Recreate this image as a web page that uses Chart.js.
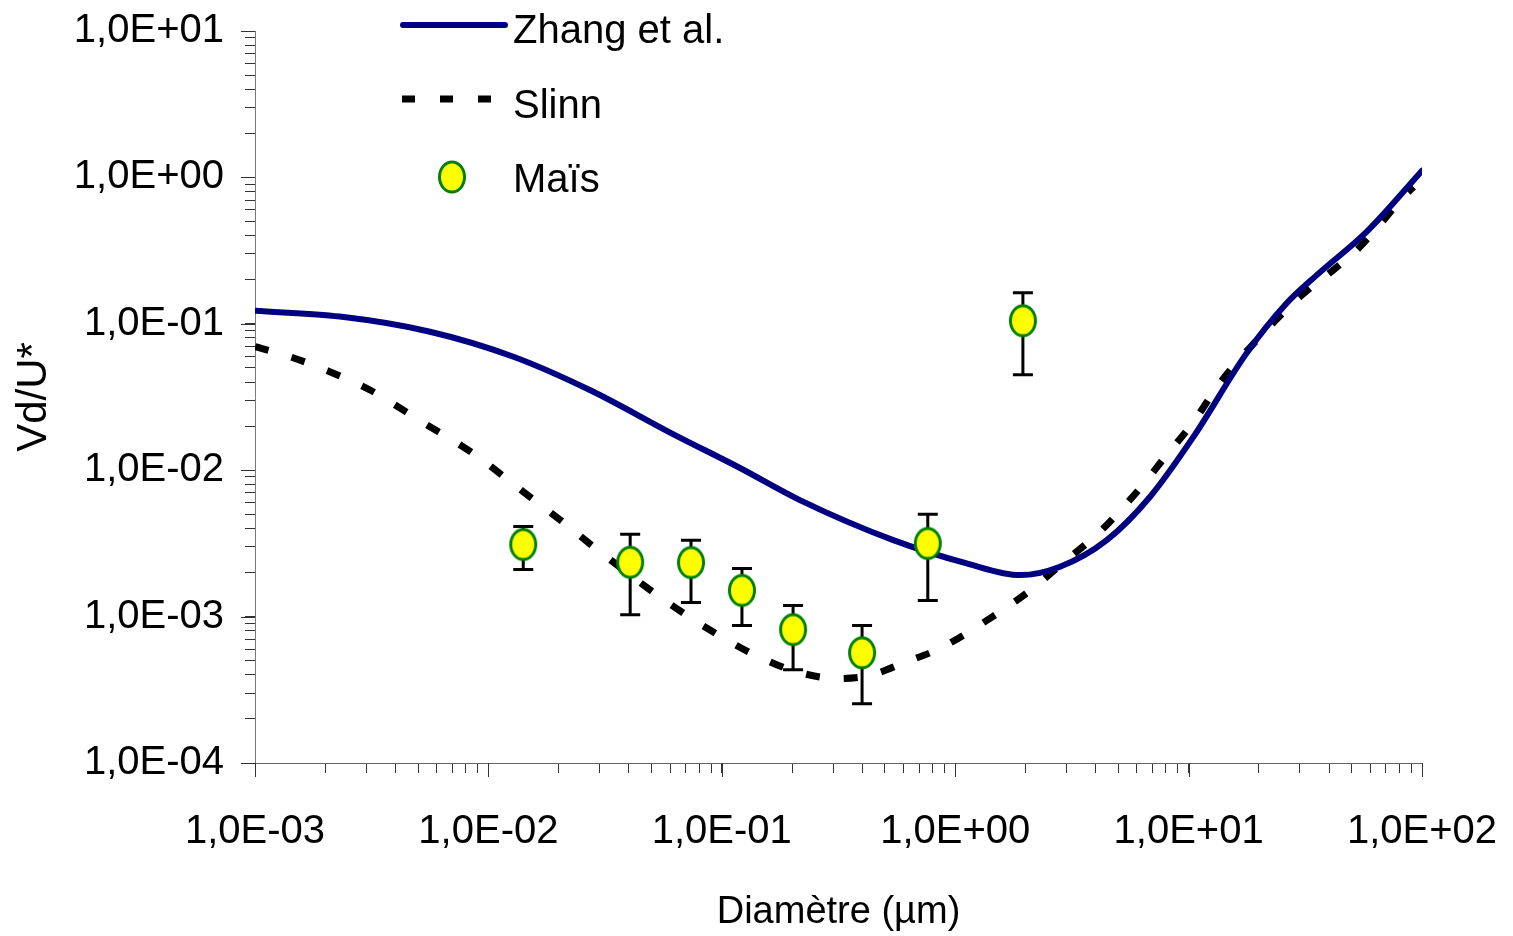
<!DOCTYPE html>
<html>
<head>
<meta charset="utf-8">
<script src="https://cdn.jsdelivr.net/npm/chart.js@4.4.1/dist/chart.umd.min.js"></script>
<style>
  html, body { margin: 0; padding: 0; background: #fff; }
  #wrap { width: 1513px; height: 936px; }
</style>
</head>
<body>
<div id="wrap"><canvas id="chart"></canvas></div>
<script>
// --- DATA ---
const xTickValues = [1e-3, 1e-2, 1e-1, 1, 10, 100];
const xTickLabels = ['1,0E-03', '1,0E-02', '1,0E-01', '1,0E+00', '1,0E+01', '1,0E+02'];
const yTickValues = [1e-4, 1e-3, 1e-2, 1e-1, 1, 10];
const yTickLabels = ['1,0E-04', '1,0E-03', '1,0E-02', '1,0E-01', '1,0E+00', '1,0E+01'];

const seriesNames = ['Zhang et al.', 'Slinn', 'Maïs'];

const zhangX = [0.001, 0.00231, 0.00562, 0.0128, 0.0272, 0.0618, 0.1197, 0.216, 0.543, 1.12, 1.9, 2.81, 4.46, 6.84, 10.5, 17.7, 26.3, 35.4, 58, 100];
const zhangY = [0.1227, 0.112, 0.0883, 0.0596, 0.0353, 0.01766, 0.01035, 0.00625, 0.00333, 0.00231, 0.00192, 0.00219, 0.00333, 0.00659, 0.01694, 0.0628, 0.138, 0.215, 0.426, 1.11];

const slinnX = [0.001, 0.00141, 0.00209, 0.00311, 0.00518, 0.00861, 0.0141, 0.0203, 0.0301, 0.0581, 0.105, 0.1436, 0.209, 0.315, 0.431, 0.619, 0.861, 1.41, 2.06, 3.0, 4.17, 6.19, 8.05, 10.5, 13.6, 19.6, 30.0, 41.7, 52.5, 63, 83.2, 92];
const slinnY = [0.0698, 0.0596, 0.0471, 0.0353, 0.0214, 0.013, 0.00713, 0.00457, 0.00277, 0.00126, 0.000692, 0.000532, 0.00042, 0.000378, 0.000397, 0.000492, 0.000607, 0.000973, 0.00148, 0.00244, 0.0038, 0.00752, 0.0127, 0.0214, 0.0393, 0.0774, 0.153, 0.233, 0.319, 0.437, 0.738, 0.86];

const maisX = [0.0141, 0.0405, 0.0738, 0.122, 0.202, 0.399, 0.763, 1.95];
const maisY = [0.00311, 0.00235, 0.00234, 0.00151, 0.000815, 0.000566, 0.00316, 0.105];
const maisErrHigh = [0.00413, 0.00365, 0.00332, 0.00213, 0.00119, 0.00087, 0.005, 0.163];
const maisErrLow = [0.0021, 0.00103, 0.00125, 0.00087, 0.000434, 0.000254, 0.00129, 0.0448];

// --- STYLE ---
const FONT = "'Liberation Sans', Arial, sans-serif";
const ZHANG_COLOR = '#000080';
const SLINN_COLOR = '#000000';
const SLINN_DASH = [14, 24];

// marqueur ellipse jaune / bord vert
function makeMarker() {
    const c = document.createElement('canvas');
    c.width = 30; c.height = 36;
    const g = c.getContext('2d');
    g.beginPath();
    g.ellipse(15, 18, 12.5, 15, 0, 0, Math.PI * 2);
    g.fillStyle = '#ffff00';
    g.fill();
    g.lineWidth = 3;
    g.strokeStyle = '#008000';
    g.stroke();
    return c;
}
const marker = makeMarker();

const toPoints = (xs, ys) => xs.map((x, i) => ({ x, y: ys[i] }));

function logTicks(majors) {
    const out = [];
    majors.forEach((v, i) => {
        out.push({ value: v, major: true });
        if (i < majors.length - 1) {
            for (let k = 2; k <= 9; k++) out.push({ value: v * k, major: false });
        }
    });
    return out;
}

function labelFor(values, labels) {
    return (value) => {
        const i = values.findIndex(v => Math.abs(Math.log10(v) - Math.log10(value)) < 1e-6);
        return i >= 0 ? labels[i] : '';
    };
}

// barres d'erreur, dessinées sous les marqueurs
const errorBars = {
    id: 'errorBars',
    beforeDatasetDraw(chart, args) {
        if (args.index !== 0) return;
        const { ctx, scales: { x, y } } = chart;
        ctx.save();
        ctx.strokeStyle = '#000';
        ctx.lineWidth = 3;
        maisX.forEach((v, i) => {
            const px = x.getPixelForValue(v);
            const top = y.getPixelForValue(maisErrHigh[i]);
            const bot = y.getPixelForValue(maisErrLow[i]);
            ctx.beginPath();
            ctx.moveTo(px, top); ctx.lineTo(px, bot);
            ctx.moveTo(px - 10, top); ctx.lineTo(px + 10, top);
            ctx.moveTo(px - 10, bot); ctx.lineTo(px + 10, bot);
            ctx.stroke();
        });
        ctx.restore();
    }
};

// ticks majeurs un peu plus longs
const majorTicks = {
    id: 'majorTicks',
    afterDraw(chart) {
        const { ctx, chartArea, scales: { x, y } } = chart;
        ctx.save();
        ctx.strokeStyle = '#333';
        ctx.lineWidth = 1;
        ctx.beginPath();
        xTickValues.forEach(v => {
            const px = Math.round(x.getPixelForValue(v)) + 0.5;
            ctx.moveTo(px, chartArea.bottom); ctx.lineTo(px, chartArea.bottom + 14);
        });
        yTickValues.forEach(v => {
            const py = Math.round(y.getPixelForValue(v)) + 0.5;
            ctx.moveTo(chartArea.left, py); ctx.lineTo(chartArea.left - 14, py);
        });
        ctx.stroke();
        ctx.restore();
    }
};

// légende dans la zone du graphique
const customLegend = {
    id: 'customLegend',
    afterDraw(chart) {
        const { ctx, chartArea } = chart;
        const x0 = chartArea.left + 145;
        const textX = chartArea.left + 258;
        ctx.save();
        ctx.font = `40px ${FONT}`;
        ctx.fillStyle = '#000';
        ctx.textBaseline = 'alphabetic';
        ctx.textAlign = 'left';

        // Zhang
        ctx.strokeStyle = ZHANG_COLOR;
        ctx.lineWidth = 6;
        ctx.lineCap = 'round';
        ctx.beginPath();
        ctx.moveTo(x0 + 3, chartArea.top - 6); ctx.lineTo(x0 + 105, chartArea.top - 6);
        ctx.stroke();
        ctx.fillText(seriesNames[0], textX, chartArea.top + 12);

        // Slinn
        ctx.strokeStyle = SLINN_COLOR;
        ctx.lineWidth = 7;
        ctx.lineCap = 'butt';
        ctx.setLineDash([13, 25]);
        ctx.beginPath();
        ctx.moveTo(x0 + 2, chartArea.top + 68); ctx.lineTo(x0 + 100, chartArea.top + 68);
        ctx.stroke();
        ctx.setLineDash([]);
        ctx.fillText(seriesNames[1], textX, chartArea.top + 87);

        // Maïs
        ctx.drawImage(marker, x0 + 52 - marker.width / 2, chartArea.top + 146 - marker.height / 2);
        ctx.fillText(seriesNames[2], textX, chartArea.top + 161);
        ctx.restore();
    }
};

const ctx = document.getElementById('chart').getContext('2d');
new Chart(ctx, {
    type: 'scatter',
    data: {
        datasets: [
            {
                label: seriesNames[2],
                data: toPoints(maisX, maisY),
                showLine: false,
                pointStyle: marker,
                pointRadius: 15
            },
            {
                label: seriesNames[0],
                data: toPoints(zhangX, zhangY),
                showLine: true,
                borderColor: ZHANG_COLOR,
                borderWidth: 6,
                borderCapStyle: 'round',
                pointRadius: 0,
                cubicInterpolationMode: 'monotone'
            },
            {
                label: seriesNames[1],
                data: toPoints(slinnX, slinnY),
                showLine: true,
                borderColor: SLINN_COLOR,
                borderWidth: 7,
                borderDash: SLINN_DASH,
                pointRadius: 0,
                cubicInterpolationMode: 'monotone'
            }
        ]
    },
    options: {
        responsive: true,
        maintainAspectRatio: false,
        animation: false,
        events: [],
        layout: { padding: { top: 31, right: 91, left: 0, bottom: 0 } },
        plugins: {
            legend: { display: false },
            tooltip: { enabled: false }
        },
        scales: {
            x: {
                type: 'logarithmic',
                min: 1e-3,
                max: 100,
                afterBuildTicks: (scale) => { scale.ticks = logTicks(xTickValues); },
                afterFit: (scale) => {
                    scale.height = 173;
                    scale.paddingLeft = 0;
                    scale.paddingRight = 0;
                },
                grid: { drawOnChartArea: false, tickLength: 10, tickColor: '#333' },
                border: { color: '#666', width: 1 },
                ticks: {
                    autoSkip: false,
                    maxRotation: 0,
                    padding: 35,
                    color: '#000',
                    font: { family: FONT, size: 40 },
                    callback: labelFor(xTickValues, xTickLabels)
                },
                title: {
                    display: true,
                    text: 'Diamètre (µm)',
                    color: '#000',
                    font: { family: FONT, size: 38 },
                    padding: { top: 0, bottom: 1 }
                }
            },
            y: {
                type: 'logarithmic',
                min: 1e-4,
                max: 10,
                afterBuildTicks: (scale) => { scale.ticks = logTicks(yTickValues); },
                afterFit: (scale) => {
                    scale.width = 255;
                    scale.paddingTop = 0;
                    scale.paddingBottom = 0;
                },
                grid: { drawOnChartArea: false, tickLength: 10, tickColor: '#333' },
                border: { color: '#777', width: 1 },
                ticks: {
                    autoSkip: false,
                    padding: 21,
                    color: '#000',
                    font: { family: FONT, size: 40 },
                    callback: labelFor(yTickValues, yTickLabels)
                },
                title: {
                    display: true,
                    text: 'Vd/U*',
                    color: '#000',
                    font: { family: FONT, size: 42 },
                    padding: { top: 9, bottom: 0 }
                }
            }
        }
    },
    plugins: [errorBars, majorTicks, customLegend]
});
</script>
</body>
</html>
